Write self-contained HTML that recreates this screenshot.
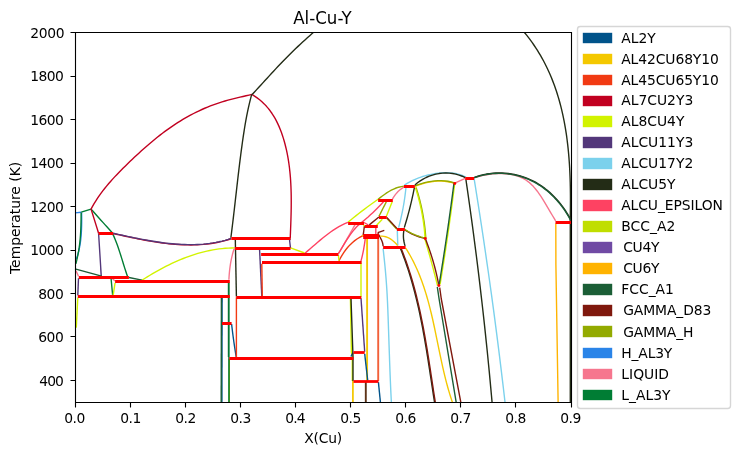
<!DOCTYPE html>
<html lang="en"><head><meta charset="utf-8"><title>Al-Cu-Y</title>
<style>html,body{margin:0;padding:0;background:#fff}svg{display:block}text{font-family:"DejaVu Sans","Liberation Sans",sans-serif;fill:#000;font-size:13.889px}.c path{fill:none;stroke-linejoin:round;stroke-linecap:butt}.c path.r{stroke:#f00;stroke-width:2.778;stroke-linecap:square}.c path.d{stroke:#f00;stroke-width:2.9;stroke-linecap:round}</style></head><body>
<svg width="739" height="455" viewBox="0 0 739 455">
<rect width="739" height="455" fill="#fff"/>
<defs><clipPath id="ax"><rect x="74.53" y="32.12" width="496.5" height="369.9"/></clipPath></defs>
<g class="c" clip-path="url(#ax)">
<path d="M75 212.9 L81.3 212.2" stroke="#2a84e8" stroke-width="1.39"/>
<path d="M81.6 212.4 L81.64 215.74 L81.67 219.09 L81.66 222.46 L81.6 225.83 L81.5 229.21 L81.33 232.59 L81.09 235.96 L80.76 239.32 L80.34 242.66 L79.81 245.99 L79.16 249.29 L78.38 252.56 L77.47 255.8 L76.4 259" stroke="#2a84e8" stroke-width="1.39"/>
<path d="M81.3 212.2 L91.05 209.1" stroke="#007d34" stroke-width="1.39"/>
<path d="M91.05 209.1 L93.02 211.32 L94.99 213.55 L96.97 215.76 L98.95 217.98 L100.93 220.19 L102.92 222.4 L104.91 224.61 L106.9 226.81 L108.9 229.01 L110.9 231.21 L112.9 233.4" stroke="#007d34" stroke-width="1.39"/>
<path d="M112.62 233.59 L113.99 236.61 L115.27 239.66 L116.47 242.73 L117.6 245.84 L118.69 248.96 L119.72 252.1 L120.73 255.25 L121.72 258.41 L122.69 261.57 L123.67 264.73 L124.66 267.89 L125.68 271.04 L126.73 274.17 L127.83 277.29" stroke="#007d34" stroke-width="1.39"/>
<path d="M81.17 212.4 L81.13 215.64 L81.09 218.88 L81.03 222.12 L80.95 225.36 L80.84 228.6 L80.69 231.83 L80.49 235.06 L80.24 238.29 L79.93 241.5 L79.55 244.71 L79.11 247.92 L78.6 251.11 L78.02 254.3 L77.37 257.47 L76.65 260.64 L75.85 263.8" stroke="#007d34" stroke-width="1.39"/>
<path d="M91.03 209.12 L92.52 206.37 L94.08 203.67 L95.71 201.02 L97.39 198.43 L99.12 195.88 L100.91 193.38 L102.75 190.92 L104.64 188.5 L106.57 186.12 L108.54 183.77 L110.55 181.45 L112.6 179.16 L114.68 176.9 L116.78 174.67 L118.91 172.45 L121.07 170.26 L123.25 168.08 L125.44 165.91 L127.65 163.76 L129.86 161.61 L132.09 159.48 L134.34 157.35 L136.59 155.24 L138.86 153.14 L141.15 151.05 L143.45 148.99 L145.76 146.94 L148.09 144.91 L150.44 142.91 L152.81 140.92 L155.2 138.97 L157.6 137.03 L160.03 135.13 L162.47 133.25 L164.94 131.41 L167.43 129.59 L169.95 127.81 L172.48 126.07 L175.04 124.36 L177.63 122.69 L180.23 121.05 L182.86 119.46 L185.51 117.9 L188.18 116.39 L190.88 114.92 L193.6 113.5 L196.34 112.12 L199.11 110.78 L201.9 109.5 L204.71 108.26 L207.54 107.07 L210.4 105.94 L213.29 104.85 L216.19 103.82 L219.12 102.85 L222.07 101.92 L225.03 101.04 L228.01 100.19 L231 99.39 L234 98.61 L237 97.87 L240.01 97.15 L243.02 96.45 L246.03 95.76 L249.03 95.09 L252.02 94.43" stroke="#c10020" stroke-width="1.39"/>
<path d="M251.83 94.42 L254.55 96.08 L257.14 97.86 L259.61 99.76 L261.95 101.77 L264.17 103.89 L266.27 106.1 L268.26 108.4 L270.12 110.8 L271.88 113.27 L273.53 115.81 L275.07 118.43 L276.51 121.11 L277.85 123.84 L279.1 126.62 L280.27 129.44 L281.36 132.31 L282.37 135.2 L283.31 138.12 L284.18 141.05 L284.99 144 L285.74 146.97 L286.44 149.94 L287.07 152.93 L287.66 155.93 L288.18 158.94 L288.66 161.96 L289.09 164.99 L289.48 168.03 L289.82 171.07 L290.12 174.12 L290.38 177.18 L290.6 180.24 L290.78 183.3 L290.93 186.37 L291.05 189.45 L291.14 192.52 L291.2 195.6 L291.23 198.67 L291.24 201.75 L291.23 204.82 L291.2 207.89 L291.15 210.96 L291.08 214.03 L291 217.09 L290.91 220.15 L290.81 223.2 L290.7 226.25 L290.59 229.28 L290.47 232.31 L290.35 235.33 L290.23 238.34" stroke="#c10020" stroke-width="1.39"/>
<path d="M91.05 209.1 L98.6 233.2" stroke="#c10020" stroke-width="1.39"/>
<path d="M98.6 233.2 L101.3 277.3" stroke="#53377a" stroke-width="1.39"/>
<path d="M113.25 233.58 L116.26 234.24 L119.29 234.89 L122.32 235.55 L125.38 236.2 L128.44 236.86 L131.51 237.5 L134.59 238.14 L137.68 238.76 L140.78 239.37 L143.89 239.96 L147 240.53 L150.12 241.08 L153.25 241.6 L156.38 242.1 L159.51 242.56 L162.65 242.99 L165.79 243.39 L168.93 243.74 L172.08 244.06 L175.22 244.33 L178.36 244.56 L181.51 244.73 L184.65 244.86 L187.79 244.93 L190.93 244.95 L194.06 244.9 L197.19 244.79 L200.31 244.62 L203.43 244.38 L206.54 244.07 L209.65 243.69 L212.75 243.23 L215.84 242.7 L218.92 242.08 L221.99 241.38 L225.04 240.6 L228.09 239.73 L231.13 238.76" stroke="#c10020" stroke-width="1.39"/>
<path d="M314.53 31.52 L312.11 33.59 L309.72 35.68 L307.34 37.78 L304.98 39.9 L302.64 42.04 L300.32 44.2 L298.01 46.37 L295.72 48.56 L293.44 50.77 L291.18 52.98 L288.93 55.22 L286.7 57.46 L284.48 59.72 L282.27 61.99 L280.07 64.28 L277.89 66.57 L275.72 68.88 L273.56 71.19 L271.4 73.52 L269.26 75.85 L267.12 78.19 L264.98 80.52 L262.85 82.86 L260.71 85.2 L258.57 87.54 L256.43 89.87 L254.27 92.19 L252.11 94.5" stroke="#232c16" stroke-width="1.39"/>
<path d="M251.72 94.34 L250.91 97.32 L250.14 100.31 L249.41 103.3 L248.71 106.3 L248.05 109.31 L247.42 112.33 L246.81 115.35 L246.24 118.38 L245.69 121.41 L245.16 124.45 L244.65 127.49 L244.16 130.53 L243.69 133.58 L243.23 136.63 L242.79 139.69 L242.35 142.74 L241.93 145.8 L241.51 148.86 L241.11 151.92 L240.71 154.98 L240.31 158.05 L239.93 161.11 L239.55 164.18 L239.17 167.24 L238.8 170.31 L238.44 173.38 L238.08 176.45 L237.72 179.52 L237.37 182.59 L237.02 185.66 L236.67 188.73 L236.32 191.8 L235.97 194.87 L235.62 197.94 L235.27 201.01 L234.92 204.08 L234.57 207.15 L234.22 210.22 L233.86 213.28 L233.5 216.35 L233.14 219.41 L232.77 222.48 L232.4 225.54 L232.02 228.6 L231.64 231.66 L231.25 234.72 L230.86 237.77" stroke="#232c16" stroke-width="1.39"/>
<path d="M235.3 238.8 L236.4 296.6" stroke="#232c16" stroke-width="1.39"/>
<path d="M142.07 280.12 L144.67 278.47 L147.3 276.84 L149.94 275.23 L152.61 273.65 L155.29 272.09 L158 270.57 L160.72 269.07 L163.47 267.61 L166.23 266.19 L169.02 264.8 L171.82 263.45 L174.64 262.14 L177.48 260.88 L180.34 259.66 L183.21 258.5 L186.11 257.38 L189.02 256.31 L191.94 255.29 L194.89 254.34 L197.85 253.44 L200.82 252.6 L203.82 251.82 L206.82 251.11 L209.84 250.46 L212.88 249.88 L215.93 249.37 L219 248.93 L222.08 248.57 L225.18 248.28 L228.29 248.07 L231.41 247.95 L234.54 247.9" stroke="#d2f300" stroke-width="1.39"/>
<path d="M75 268.8 L101.6 276.2" stroke="#1b5e36" stroke-width="1.39"/>
<path d="M128.9 277.5 L142 280.1" stroke="#1b5e36" stroke-width="1.39"/>
<path d="M76 270.7 L78.5 276.3" stroke="#f6768e" stroke-width="1.39"/>
<path d="M78.5 278.2 L77.8 295.4" stroke="#53377a" stroke-width="1.39"/>
<path d="M111.1 279 L112.6 294.9" stroke="#007d34" stroke-width="1.39"/>
<path d="M115.1 282.8 L113.2 294.9" stroke="#d2f300" stroke-width="1.39"/>
<path d="M112.6 279 L115.1 281" stroke="#f6768e" stroke-width="1.39"/>
<path d="M77.8 297.6 L76.3 327.6" stroke="#d2f300" stroke-width="1.39"/>
<path d="M234.1 248.8 L233.24 251.54 L232.48 254.3 L231.8 257.08 L231.2 259.88 L230.67 262.7 L230.22 265.53 L229.83 268.38 L229.51 271.23 L229.25 274.08 L229.05 276.94 L228.9 279.8" stroke="#f6768e" stroke-width="1.39"/>
<path d="M229.3 359 L229.3 403" stroke="#93aa00" stroke-width="1.39"/>
<path d="M228.5 282.6 L228.5 357" stroke="#1b5e36" stroke-width="1.39"/>
<path d="M222.1 296.4 L221.9 403" stroke="#00538a" stroke-width="1.39"/>
<path d="M231.6 324 L231.94 327 L232.3 330 L232.67 333 L233.06 335.99 L233.46 338.99 L233.88 341.98 L234.31 344.97 L234.76 347.95 L235.23 350.94 L235.7 353.92 L236.2 356.9" stroke="#00538a" stroke-width="1.39"/>
<path d="M236.4 297.2 L236.4 358.3" stroke="#f13a13" stroke-width="1.39"/>
<path d="M259.6 250 L261.8 296.5" stroke="#53377a" stroke-width="1.39"/>
<path d="M261.8 263.8 L262.3 296" stroke="#f13a13" stroke-width="1.39"/>
<path d="M290.3 238.4 L289.6 240.5 L290.5 248.2" stroke="#53377a" stroke-width="1.39"/>
<path d="M290.5 247.8 L304.6 253" stroke="#d2f300" stroke-width="1.39"/>
<path d="M305.22 253.01 L307.72 250.89 L310.21 248.74 L312.7 246.58 L315.19 244.41 L317.69 242.25 L320.21 240.12 L322.76 238.01 L325.34 235.94 L327.95 233.94 L330.61 231.99 L333.32 230.13 L336.08 228.36 L338.91 226.68 L341.82 225.12 L344.79 223.69 L347.86 222.4" stroke="#fe4262" stroke-width="1.39"/>
<path d="M338.48 253.49 L340.04 250.87 L341.59 248.24 L343.13 245.61 L344.67 242.97 L346.2 240.33 L347.71 237.69 L349.22 235.04 L350.73 232.38 L352.22 229.72 L353.7 227.06 L355.18 224.39" stroke="#f6768e" stroke-width="1.39"/>
<path d="M338.48 253.48 L340.13 250.81 L341.77 248.11 L343.41 245.39 L345.06 242.67 L346.75 239.97 L348.48 237.3 L350.28 234.69 L352.15 232.14 L354.12 229.67 L356.21 227.31 L358.45 225.11 L360.86 223.08 L363.31 221.09 L365.73 219.05 L368.12 216.97 L370.46 214.84 L372.78 212.67 L375.05 210.46 L377.29 208.22 L379.5 205.94 L381.68 203.65 L383.82 201.32" stroke="#fe4262" stroke-width="1.39"/>
<path d="M339.01 260.71 L340.51 257.88 L342.14 255.11 L343.89 252.4 L345.77 249.78 L347.79 247.27 L349.95 244.89 L352.26 242.67 L354.72 240.62 L357.33 238.76 L360.09 237.13 L363.03 235.73" stroke="#f13a13" stroke-width="1.39"/>
<path d="M338.4 255.1 L339 260.7" stroke="#d2f300" stroke-width="1.39"/>
<path d="M360.9 261.4 L361.42 259.39 L361.92 257.37 L362.39 255.35 L362.83 253.32 L363.25 251.29 L363.64 249.26 L364 247.22 L364.34 245.17 L364.65 243.12 L364.94 241.06 L365.2 239" stroke="#fe4262" stroke-width="1.39"/>
<path d="M367.1 238.5 L367.1 381" stroke="#f4c800" stroke-width="1.9"/>
<path d="M361 262.4 L361 297.2" stroke="#d2f300" stroke-width="1.39"/>
<path d="M350.4 298 L351.4 352 L352.3 358 L352.3 381" stroke="#d2f300" stroke-width="1.39"/>
<path d="M350.9 356.5 L353 352.7" stroke="#00538a" stroke-width="1.39"/>
<path d="M351 298.2 L353 356.7 L353 381" stroke="#232c16" stroke-width="1.39"/>
<path d="M361 298.2 L364.7 351.8" stroke="#53377a" stroke-width="1.39"/>
<path d="M364.7 353.8 L367.7 380.4" stroke="#00538a" stroke-width="1.39"/>
<path d="M378.2 238.5 L378.2 381.1" stroke="#f2603a" stroke-width="1.9"/>
<path d="M352.9 381 L352.9 403" stroke="#f4c800" stroke-width="1.74"/>
<path d="M365.8 381 L365.8 403" stroke="#5e3418" stroke-width="1.9"/>
<path d="M378.4 382.1 L380.4 402" stroke="#00538a" stroke-width="1.39"/>
<path d="M383.07 248.3 L383.42 251.38 L383.76 254.46 L384.1 257.55 L384.42 260.63 L384.73 263.72 L385.03 266.8 L385.32 269.89 L385.59 272.97 L385.85 276.06 L386.1 279.15 L386.33 282.24 L386.55 285.33 L386.76 288.42 L386.95 291.51 L387.12 294.61 L387.29 297.7 L387.44 300.8 L387.58 303.89 L387.71 306.99 L387.84 310.08 L387.96 313.18 L388.07 316.28 L388.18 319.38 L388.29 322.47 L388.4 325.57 L388.5 328.67 L388.61 331.77 L388.71 334.87 L388.82 337.96 L388.92 341.06 L389.02 344.16 L389.13 347.26 L389.23 350.36 L389.34 353.45 L389.45 356.55 L389.55 359.65 L389.66 362.75 L389.78 365.84 L389.89 368.94 L390.01 372.04 L390.13 375.14 L390.26 378.23 L390.38 381.33 L390.52 384.43 L390.65 387.52 L390.79 390.62 L390.94 393.71 L391.09 396.81 L391.24 399.9 L391.41 403" stroke="#7bd1ec" stroke-width="1.39"/>
<path d="M348.1 222.1 L350.75 219.92 L353.42 217.77 L356.1 215.63 L358.79 213.52 L361.5 211.42 L364.23 209.35 L366.97 207.3 L369.73 205.27 L372.51 203.26 L375.3 201.27 L378.1 199.3" stroke="#d2f300" stroke-width="1.39"/>
<path d="M378.1 199.3 L380.18 197.67 L382.31 196.05 L384.47 194.46 L386.69 192.94 L388.96 191.51 L391.29 190.19 L393.68 189.02 L396.14 188.01 L398.68 187.21 L401.3 186.63 L404 186.3" stroke="#93aa00" stroke-width="1.39"/>
<path d="M364 222.5 L368.5 225" stroke="#fe4262" stroke-width="1.39"/>
<path d="M363.2 235.1 L364.4 226.1" stroke="#7f180d" stroke-width="1.39"/>
<path d="M369.3 224.9 L378.9 217" stroke="#7f180d" stroke-width="1.39"/>
<path d="M378.9 216.4 L379.59 215.04 L380.27 213.69 L380.96 212.33 L381.65 210.97 L382.34 209.62 L383.03 208.26 L383.72 206.91 L384.41 205.56 L385.11 204.2 L385.8 202.85 L386.5 201.5" stroke="#93aa00" stroke-width="1.39"/>
<path d="M376.6 225.3 L382.3 219.2" stroke="#d2f300" stroke-width="1.39"/>
<path d="M386.3 216.5 L392.3 201.5" stroke="#d2f300" stroke-width="1.39"/>
<path d="M386.75 218.2 L396.9 229.2" stroke="#93aa00" stroke-width="1.39"/>
<path d="M405.95 187.6 L405.59 190.98 L405.19 194.35 L404.74 197.72 L404.25 201.07 L403.71 204.42 L403.12 207.75 L402.48 211.08 L401.8 214.4 L401.07 217.72 L400.29 221.02 L399.47 224.31 L398.6 227.6" stroke="#7bd1ec" stroke-width="1.39"/>
<path d="M397.3 230.8 L397.8 245.5" stroke="#7bd1ec" stroke-width="1.39"/>
<path d="M375.8 227.8 L375.8 234.3" stroke="#fe4262" stroke-width="1.39"/>
<path d="M384.3 230.4 L377.8 232.6" stroke="#7f180d" stroke-width="1.39"/>
<path d="M377.8 232.6 L378.33 233.81 L378.92 235.01 L379.54 236.19 L380.18 237.38 L380.8 238.58 L381.39 239.78 L381.92 241 L382.38 242.25 L382.75 243.53 L382.99 244.84 L383.1 246.2" stroke="#7f180d" stroke-width="1.39"/>
<path d="M380.09 236.11 L382 236.1 L383.87 236.33 L385.68 236.76 L387.43 237.39 L389.11 238.19 L390.73 239.14 L392.28 240.22 L393.74 241.42 L395.12 242.71 L396.41 244.08 L397.6 245.5" stroke="#f4c800" stroke-width="1.39"/>
<path d="M405.65 248.01 L407.3 250.65 L408.89 253.31 L410.42 256 L411.89 258.71 L413.3 261.44 L414.66 264.19 L415.96 266.96 L417.22 269.75 L418.42 272.55 L419.58 275.37 L420.69 278.21 L421.76 281.06 L422.79 283.93 L423.78 286.82 L424.73 289.71 L425.65 292.62 L426.53 295.54 L427.38 298.48 L428.2 301.42 L429 304.37 L429.77 307.34 L430.51 310.31 L431.24 313.29 L431.94 316.27 L432.63 319.27 L433.3 322.26 L433.95 325.27 L434.6 328.27 L435.23 331.29 L435.86 334.3 L436.48 337.32 L437.1 340.33 L437.71 343.35 L438.33 346.37 L438.95 349.39 L439.57 352.4 L440.19 355.42 L440.83 358.43 L441.47 361.43 L442.13 364.44 L442.79 367.44 L443.48 370.43 L444.18 373.41 L444.9 376.39 L445.64 379.36 L446.41 382.33 L447.2 385.28 L448.02 388.22 L448.87 391.15 L449.75 394.08 L450.66 396.98 L451.61 399.88 L452.59 402.76" stroke="#f4c800" stroke-width="1.39"/>
<path d="M414.4 187.6 L413.72 190.97 L413.02 194.34 L412.28 197.7 L411.51 201.05 L410.72 204.4 L409.89 207.74 L409.03 211.07 L408.15 214.39 L407.23 217.7 L406.28 221.01 L405.31 224.31 L404.3 227.6" stroke="#232c16" stroke-width="1.39"/>
<path d="M403.8 230.8 L403.61 232.2 L403.48 233.59 L403.42 234.98 L403.41 236.36 L403.47 237.74 L403.59 239.11 L403.77 240.48 L404.01 241.84 L404.31 243.2 L404.67 244.55 L405.1 245.9" stroke="#232c16" stroke-width="1.39"/>
<path d="M416.1 187.5 L417.08 190.6 L418.01 193.72 L418.9 196.84 L419.73 199.98 L420.51 203.12 L421.24 206.28 L421.92 209.45 L422.55 212.62 L423.13 215.81 L423.67 219 L424.15 222.21 L424.58 225.43 L424.96 228.66 L425.29 231.89 L425.57 235.14 L425.8 238.4" stroke="#93aa00" stroke-width="1.39"/>
<path d="M404.8 229.9 L406.47 230.97 L408.17 231.99 L409.89 232.94 L411.64 233.83 L413.42 234.65 L415.22 235.42 L417.05 236.12 L418.91 236.76 L420.8 237.33 L422.71 237.85 L424.65 238.3" stroke="#7f180d" stroke-width="1.39"/>
<path d="M424.8 238.8 L425.72 241.89 L426.62 244.99 L427.52 248.09 L428.4 251.19 L429.28 254.3 L430.15 257.41 L431 260.52 L431.85 263.63 L432.69 266.75 L433.51 269.87 L434.33 272.99 L435.14 276.11 L435.94 279.24 L436.72 282.37 L437.5 285.5" stroke="#d2f300" stroke-width="1.39"/>
<path d="M454.7 183.7 L454.3 186.85 L453.9 190 L453.5 193.16 L453.09 196.31 L452.68 199.46 L452.27 202.61 L451.85 205.76 L451.43 208.9 L451 212.05 L450.57 215.2 L450.13 218.35 L449.69 221.49 L449.25 224.64 L448.8 227.78 L448.35 230.93 L447.9 234.07 L447.44 237.22 L446.98 240.36 L446.51 243.5 L446.04 246.64 L445.57 249.78 L445.09 252.92 L444.61 256.06 L444.13 259.2 L443.64 262.34 L443.14 265.48 L442.64 268.62 L442.14 271.76 L441.64 274.89 L441.13 278.03 L440.62 281.16 L440.1 284.3" stroke="#d2f300" stroke-width="1.39"/>
<path d="M437.3 286.8 L439.1 299 L456.3 403" stroke="#1b5e36" stroke-width="1.39"/>
<path d="M439.7 287.6 L441.3 299 L460.96 403" stroke="#7f180d" stroke-width="1.39"/>
<path d="M400.41 248.41 L401.57 251.31 L402.7 254.22 L403.79 257.14 L404.86 260.07 L405.9 263 L406.91 265.95 L407.89 268.9 L408.85 271.86 L409.78 274.83 L410.68 277.8 L411.56 280.79 L412.41 283.78 L413.24 286.77 L414.05 289.77 L414.84 292.78 L415.6 295.79 L416.35 298.81 L417.07 301.83 L417.78 304.86 L418.47 307.9 L419.14 310.93 L419.79 313.98 L420.43 317.02 L421.05 320.07 L421.65 323.13 L422.25 326.18 L422.83 329.24 L423.39 332.31 L423.95 335.37 L424.49 338.44 L425.03 341.51 L425.55 344.58 L426.07 347.66 L426.57 350.73 L427.07 353.81 L427.57 356.88 L428.05 359.96 L428.54 363.04 L429.01 366.12 L429.49 369.2 L429.96 372.28 L430.42 375.35 L430.89 378.43 L431.36 381.51 L431.82 384.58 L432.29 387.66 L432.75 390.73 L433.22 393.8 L433.7 396.87 L434.17 399.93 L434.65 403" stroke="#232c16" stroke-width="1.39"/>
<path d="M404.4 185.16 L407.11 183.42 L409.91 181.83 L412.78 180.38 L415.72 179.05 L418.72 177.86 L421.78 176.79 L424.89 175.85 L428.03 175.02 L431.21 174.31 L434.41 173.72 L437.64 173.24 L440.87 172.89 L444.1 172.69 L447.33 172.66 L450.54 172.82 L453.72 173.19 L456.87 173.8 L459.98 174.65 L463.03 175.77 L466.02 177.18" stroke="#7bd1ec" stroke-width="1.39"/>
<path d="M415.11 186.23 L418.21 185.09 L421.39 184.05 L424.63 183.14 L427.92 182.38 L431.24 181.77 L434.58 181.34 L437.94 181.11 L441.29 181.08 L444.63 181.27 L447.94 181.71 L451.21 182.41 L454.42 183.38" stroke="#f4c800" stroke-width="1.39"/>
<path d="M415.11 185.78 L418.21 184.64 L421.39 183.6 L424.63 182.69 L427.92 181.93 L431.24 181.32 L434.58 180.89 L437.94 180.66 L441.29 180.63 L444.63 180.82 L447.94 181.26 L451.21 181.96 L454.42 182.93" stroke="#93aa00" stroke-width="1.39"/>
<path d="M454.8 183.2 L465.2 178.3" stroke="#f6768e" stroke-width="1.39"/>
<path d="M392.5 199.1 L393.27 197.7 L394.11 196.35 L395 195.07 L395.95 193.84 L396.97 192.67 L398.04 191.56 L399.17 190.51 L400.36 189.52 L401.62 188.59 L402.93 187.72 L404.3 186.9" stroke="#f6768e" stroke-width="1.39"/>
<path d="M465.9 179.4 L467.02 187.11 L468.13 194.82 L469.23 202.53 L470.3 210.24 L471.36 217.95 L472.41 225.66 L473.44 233.37 L474.45 241.08 L475.45 248.79 L476.44 256.5 L477.4 264.21 L478.35 271.92 L479.29 279.63 L480.21 287.34 L481.11 295.06 L482 302.77 L482.88 310.48 L483.73 318.19 L484.58 325.9 L485.4 333.61 L486.21 341.32 L487.01 349.03 L487.79 356.74 L488.55 364.45 L489.3 372.16 L490.03 379.87 L490.74 387.58 L491.44 395.29 L492.13 403" stroke="#232c16" stroke-width="1.39"/>
<path d="M474.1 178.7 L475.35 186.43 L476.58 194.17 L477.81 201.9 L479.02 209.64 L480.21 217.37 L481.4 225.11 L482.57 232.84 L483.73 240.58 L484.87 248.31 L486 256.04 L487.12 263.78 L488.23 271.51 L489.33 279.25 L490.41 286.98 L491.48 294.72 L492.53 302.45 L493.58 310.19 L494.61 317.92 L495.62 325.66 L496.63 333.39 L497.62 341.12 L498.6 348.86 L499.57 356.59 L500.52 364.33 L501.46 372.06 L502.39 379.8 L503.31 387.53 L504.21 395.27 L505.1 403" stroke="#7bd1ec" stroke-width="1.39"/>
<path d="M474.23 177.55 L477.2 176.74 L480.23 176 L483.3 175.34 L486.41 174.77 L489.55 174.29 L492.71 173.92 L495.89 173.67 L499.07 173.55 L502.26 173.57 L505.44 173.74 L508.61 174.06 L511.75 174.56 L514.84 175.25 L517.86 176.15 L520.78 177.28 L523.57 178.65 L526.22 180.26 L528.71 182.1 L531.05 184.14 L533.26 186.35 L535.33 188.72 L537.3 191.21 L539.17 193.8 L540.95 196.48 L542.68 199.2 L544.35 201.96 L545.99 204.71 L547.61 207.45 L549.22 210.16 L550.82 212.84 L552.42 215.51 L554.02 218.17 L555.63 220.82" stroke="#f6768e" stroke-width="1.39"/>
<path d="M555.8 223.5 L555.9 265 L558.1 400.4 L558.1 402" stroke="#ffb300" stroke-width="1.39"/>
<path d="M524.42 32.47 L526.43 34.92 L528.38 37.4 L530.27 39.9 L532.1 42.43 L533.88 44.98 L535.61 47.56 L537.28 50.15 L538.9 52.78 L540.47 55.42 L541.99 58.08 L543.46 60.77 L544.88 63.48 L546.25 66.2 L547.57 68.95 L548.85 71.71 L550.08 74.5 L551.26 77.3 L552.4 80.12 L553.49 82.95 L554.55 85.8 L555.56 88.67 L556.53 91.55 L557.45 94.45 L558.34 97.36 L559.19 100.28 L560 103.22 L560.77 106.17 L561.51 109.13 L562.21 112.1 L562.88 115.08 L563.51 118.07 L564.11 121.07 L564.67 124.09 L565.2 127.11 L565.7 130.13 L566.18 133.17 L566.62 136.21 L567.03 139.26 L567.41 142.31 L567.77 145.37 L568.1 148.44 L568.41 151.5 L568.69 154.58 L568.95 157.65 L569.18 160.73 L569.39 163.81 L569.58 166.89 L569.75 169.97 L569.89 173.05 L570.02 176.13 L570.13 179.22 L570.23 182.3 L570.3 185.37 L570.36 188.45 L570.4 191.52 L570.43 194.59 L570.45 197.66 L570.45 200.72 L570.44 203.77 L570.42 206.82 L570.39 209.87 L570.35 212.9 L570.3 215.93 L570.24 218.95 L570.17 221.97" stroke="#232c16" stroke-width="1.39"/>
<path d="M570.3 222 L570.3 402" stroke="#232c16" stroke-width="1.39"/>
<path d="M113.25 233.28 L116.26 233.94 L119.29 234.59 L122.32 235.25 L125.38 235.9 L128.44 236.56 L131.51 237.2 L134.59 237.84 L137.68 238.46 L140.78 239.07 L143.89 239.66 L147 240.23 L150.12 240.78 L153.25 241.3 L156.38 241.8 L159.51 242.26 L162.65 242.69 L165.79 243.09 L168.93 243.44 L172.08 243.76 L175.22 244.03 L178.36 244.26 L181.51 244.43 L184.65 244.56 L187.79 244.63 L190.93 244.65 L194.06 244.6 L197.19 244.49 L200.31 244.32 L203.43 244.08 L206.54 243.77 L209.65 243.39 L212.75 242.93 L215.84 242.4 L218.92 241.78 L221.99 241.08 L225.04 240.3 L228.09 239.43 L231.13 238.46" stroke="#53377a" stroke-width="1.39"/>
<path d="M228.9 282.6 L228.9 296 L228.9 403" stroke="#007d34" stroke-width="1.39"/>
<path d="M221.4 296.4 L221.2 403" stroke="#1b5e36" stroke-width="1.39"/>
<path d="M386.75 217.4 L396.9 228.4" stroke="#7f180d" stroke-width="1.39"/>
<path d="M415.4 187.5 L416.38 190.6 L417.31 193.72 L418.2 196.84 L419.03 199.98 L419.81 203.12 L420.54 206.28 L421.22 209.45 L421.85 212.62 L422.43 215.81 L422.97 219 L423.45 222.21 L423.88 225.43 L424.26 228.66 L424.59 231.89 L424.87 235.14 L425.1 238.4" stroke="#d2f300" stroke-width="1.39"/>
<path d="M404.8 229.4 L406.47 230.47 L408.17 231.49 L409.89 232.44 L411.64 233.33 L413.42 234.15 L415.22 234.92 L417.05 235.62 L418.91 236.26 L420.8 236.83 L422.71 237.35 L424.65 237.8" stroke="#93aa00" stroke-width="1.39"/>
<path d="M425.2 238.3 L426.4 241.36 L427.55 244.44 L428.67 247.53 L429.75 250.63 L430.78 253.74 L431.78 256.86 L432.73 260 L433.64 263.14 L434.52 266.3 L435.35 269.47 L436.14 272.65 L436.89 275.85 L437.6 279.05 L438.27 282.27 L438.9 285.5" stroke="#7f180d" stroke-width="1.39"/>
<path d="M453.9 183.7 L453.49 186.85 L453.08 190 L452.67 193.15 L452.26 196.3 L451.84 199.45 L451.41 202.6 L450.99 205.75 L450.56 208.9 L450.12 212.05 L449.68 215.19 L449.24 218.34 L448.8 221.48 L448.35 224.63 L447.9 227.78 L447.45 230.92 L446.99 234.06 L446.53 237.21 L446.06 240.35 L445.6 243.49 L445.13 246.63 L444.65 249.78 L444.17 252.92 L443.69 256.06 L443.21 259.2 L442.72 262.34 L442.22 265.48 L441.73 268.61 L441.23 271.75 L440.73 274.89 L440.22 278.03 L439.71 281.16 L439.2 284.3" stroke="#1b5e36" stroke-width="1.39"/>
<path d="M401.16 248.41 L402.32 251.31 L403.45 254.22 L404.54 257.14 L405.61 260.07 L406.65 263 L407.66 265.95 L408.64 268.9 L409.6 271.86 L410.53 274.83 L411.43 277.8 L412.31 280.79 L413.16 283.78 L413.99 286.77 L414.8 289.77 L415.59 292.78 L416.35 295.79 L417.1 298.81 L417.82 301.83 L418.53 304.86 L419.22 307.9 L419.89 310.93 L420.54 313.98 L421.18 317.02 L421.8 320.07 L422.4 323.13 L423 326.18 L423.58 329.24 L424.14 332.31 L424.7 335.37 L425.24 338.44 L425.78 341.51 L426.3 344.58 L426.82 347.66 L427.32 350.73 L427.82 353.81 L428.32 356.88 L428.8 359.96 L429.29 363.04 L429.76 366.12 L430.24 369.2 L430.71 372.28 L431.17 375.35 L431.64 378.43 L432.11 381.51 L432.57 384.58 L433.04 387.66 L433.5 390.73 L433.97 393.8 L434.45 396.87 L434.92 399.93 L435.4 403" stroke="#7f180d" stroke-width="1.39"/>
<path d="M414.9 185 L417.48 182.81 L420.22 180.83 L423.11 179.06 L426.12 177.5 L429.24 176.17 L432.45 175.06 L435.73 174.19 L439.06 173.56 L442.42 173.17 L445.8 173.02 L449.17 173.14 L452.52 173.51 L455.83 174.15 L459.07 175.06 L462.24 176.24 L465.31 177.71" stroke="#232c16" stroke-width="1.39"/>
<path d="M474.35 177.34 L477.37 176.32 L480.42 175.43 L483.48 174.67 L486.57 174.06 L489.66 173.58 L492.77 173.23 L495.87 173.01 L498.98 172.92 L502.07 172.97 L505.16 173.14 L508.23 173.44 L511.29 173.87 L514.32 174.42 L517.32 175.1 L520.29 175.9 L523.22 176.82 L526.11 177.87 L528.96 179.03 L531.75 180.31 L534.49 181.71 L537.18 183.23 L539.8 184.85 L542.36 186.59 L544.85 188.42 L547.28 190.35 L549.64 192.38 L551.93 194.49 L554.14 196.68 L556.28 198.95 L558.35 201.29 L560.34 203.69 L562.25 206.16 L564.08 208.69 L565.82 211.26 L567.48 213.89 L569.05 216.56 L570.53 219.26" stroke="#232c16" stroke-width="1.39"/>
<path d="M474.1 177.79 L477.12 176.77 L480.17 175.88 L483.23 175.12 L486.32 174.51 L489.41 174.03 L492.52 173.68 L495.62 173.46 L498.73 173.37 L501.82 173.42 L504.91 173.59 L507.98 173.89 L511.04 174.32 L514.07 174.87 L517.07 175.55 L520.04 176.35 L522.97 177.27 L525.86 178.32 L528.71 179.48 L531.5 180.76 L534.24 182.16 L536.93 183.68 L539.55 185.3 L542.11 187.04 L544.6 188.87 L547.03 190.8 L549.39 192.83 L551.68 194.94 L553.89 197.13 L556.03 199.4 L558.1 201.74 L560.09 204.14 L562 206.61 L563.83 209.14 L565.57 211.71 L567.23 214.34 L568.8 217.01 L570.28 219.71" stroke="#1b5e36" stroke-width="1.39"/>
<path d="M363 224.3 L364.6 226" stroke="#d2f300" stroke-width="1.39"/>
<path d="M361.9 236.2 L363.4 235.4" stroke="#f4c800" stroke-width="1.39"/>
<path class="r" d="M99.99 233.5H111.82"/>
<path class="r" d="M232.69 238.5H289.12"/>
<path class="r" d="M236.19 248.5H289.12"/>
<path class="r" d="M262.49 254.5H337.12"/>
<path class="r" d="M263.39 262.5H360.22"/>
<path class="r" d="M237.69 297.5H359.92"/>
<path class="r" d="M80.19 277.5H127.52"/>
<path class="r" d="M116.49 281.5H228.42"/>
<path class="r" d="M79.19 296.5H228.42"/>
<path class="r" d="M223.39 323.5H230.22"/>
<path class="r" d="M230.69 358.5H352.12"/>
<path class="r" d="M354.89 352.5H363.32"/>
<path class="r" d="M354.89 381.5H377.02"/>
<path class="r" d="M349.49 223.5H362.62"/>
<path class="r" d="M366.19 226.5H376.42"/>
<path class="r" d="M364.59 235.5H377.62"/>
<path class="r" d="M364.59 237.5H377.62"/>
<path class="r" d="M380.39 217.5H385.37"/>
<path class="r" d="M398.29 229.5H403.52"/>
<path class="r" d="M384.49 247.5H404.22"/>
<path class="r" d="M405.39 186.5H413.52"/>
<path class="r" d="M379.49 200.5H391.42"/>
<path class="r" d="M466.59 178.5H472.72"/>
<path class="r" d="M556.89 222.5H569.62"/>
<path class="d" d="M454.8 183.5h0.01"/>
<path class="d" d="M425.3 238.5h0.01"/>
<path class="d" d="M438.9 285.5h0.01"/>
</g>
<g stroke="#000" stroke-width="1.111" fill="none">
<path d="M75.5 402.5V407.5 M130.5 402.5V407.5 M185.5 402.5V407.5 M240.5 402.5V407.5 M295.5 402.5V407.5 M350.5 402.5V407.5 M405.5 402.5V407.5 M460.5 402.5V407.5 M515.5 402.5V407.5 M571.5 402.5V407.5"/>
<path d="M75.5 32.5H70.5 M75.5 76.5H70.5 M75.5 119.5H70.5 M75.5 163.5H70.5 M75.5 206.5H70.5 M75.5 250.5H70.5 M75.5 293.5H70.5 M75.5 336.5H70.5 M75.5 380.5H70.5"/>
<path d="M75.5 32.5H571.5V402.5H75.5Z" stroke-linejoin="miter"/>
</g>
<text x="64.2" y="423" textLength="21.18">0.0</text>
<text x="120.2" y="423" textLength="21.18">0.1</text>
<text x="175.2" y="423" textLength="21.18">0.2</text>
<text x="230.2" y="423" textLength="21.18">0.3</text>
<text x="285.2" y="423" textLength="20.28">0.4</text>
<text x="340.2" y="423" textLength="21.18">0.5</text>
<text x="395.2" y="423" textLength="21.18">0.6</text>
<text x="450.2" y="423" textLength="21.18">0.7</text>
<text x="505.2" y="423" textLength="21.18">0.8</text>
<text x="560.2" y="423" textLength="21.18">0.9</text>
<text x="30.2" y="38" textLength="34.41">2000</text>
<text x="30.3" y="81" textLength="33.51">1800</text>
<text x="30.3" y="125" textLength="33.51">1600</text>
<text x="30.3" y="168" textLength="33.51">1400</text>
<text x="30.3" y="212" textLength="33.51">1200</text>
<text x="30.3" y="255" textLength="33.51">1000</text>
<text x="38.2" y="299" textLength="25.58">800</text>
<text x="38.2" y="342" textLength="25.58">600</text>
<text x="39.2" y="386" textLength="24.68">400</text>
<text x="293.2" y="24" textLength="58.44" style="font-size:16.667px" transform="matrix(1 0 0 1.075 0 -1.8)">Al-Cu-Y</text>
<text x="304.2" y="443" textLength="37.93">X(Cu)</text>
<text transform="translate(20 274) rotate(-90)" textLength="112.23">Temperature (K)</text>
<rect x="577.5" y="26.5" width="153" height="382" rx="2.8" ry="2.8" fill="#fff" stroke="#d6d6d6" stroke-width="1.389"/>
<rect x="582.8" y="32.8" width="29.4" height="10.4" fill="#00538a"/>
<text x="621.2" y="43" textLength="34.53">AL2Y</text>
<rect x="582.8" y="53.8" width="29.4" height="10.4" fill="#f4c800"/>
<text x="621.2" y="64" textLength="97.62">AL42CU68Y10</text>
<rect x="582.8" y="74.8" width="29.4" height="10.4" fill="#f13a13"/>
<text x="621.2" y="85" textLength="97.62">AL45CU65Y10</text>
<rect x="582.8" y="95.8" width="29.4" height="10.4" fill="#c10020"/>
<text x="621.2" y="105" textLength="72.03">AL7CU2Y3</text>
<rect x="582.8" y="115.8" width="29.4" height="11.4" fill="#d2f300"/>
<text x="621.2" y="126" textLength="63.2">AL8CU4Y</text>
<rect x="582.8" y="136.8" width="29.4" height="11.4" fill="#53377a"/>
<text x="621.2" y="147" textLength="72.03">ALCU11Y3</text>
<rect x="582.8" y="157.8" width="29.4" height="11.4" fill="#7bd1ec"/>
<text x="621.2" y="168" textLength="72.03">ALCU17Y2</text>
<rect x="582.8" y="178.8" width="29.4" height="11.4" fill="#232c16"/>
<text x="621.2" y="189" textLength="54.38">ALCU5Y</text>
<rect x="582.8" y="199.8" width="29.4" height="11.4" fill="#fe4262"/>
<text x="621.2" y="210" textLength="101.68">ALCU_EPSILON</text>
<rect x="582.8" y="220.8" width="29.4" height="11.4" fill="#c0de00"/>
<text x="621.3" y="231" textLength="53.92">BCC_A2</text>
<rect x="582.8" y="241.8" width="29.4" height="11.4" fill="#704aa4"/>
<text x="623.2" y="252" textLength="36.26">CU4Y</text>
<rect x="582.8" y="262.8" width="29.4" height="11.4" fill="#ffb300"/>
<text x="623.2" y="273" textLength="36.26">CU6Y</text>
<rect x="582.8" y="283.8" width="29.4" height="11.4" fill="#1b5e36"/>
<text x="621.3" y="294" textLength="52.62">FCC_A1</text>
<rect x="582.8" y="304.8" width="29.4" height="11.4" fill="#7f180d"/>
<text x="623.2" y="315" textLength="88.07">GAMMA_D83</text>
<rect x="582.8" y="325.8" width="29.4" height="11.4" fill="#93aa00"/>
<text x="623.2" y="337" textLength="70.16">GAMMA_H</text>
<rect x="582.8" y="347.8" width="29.4" height="10.4" fill="#2a84e8"/>
<text x="621.3" y="358" textLength="51.01">H_AL3Y</text>
<rect x="582.8" y="368.8" width="29.4" height="10.4" fill="#f6768e"/>
<text x="621.3" y="379" textLength="47.69">LIQUID</text>
<rect x="582.8" y="389.8" width="29.4" height="10.4" fill="#007d34"/>
<text x="621.3" y="400" textLength="49.2">L_AL3Y</text>
</svg></body></html>
